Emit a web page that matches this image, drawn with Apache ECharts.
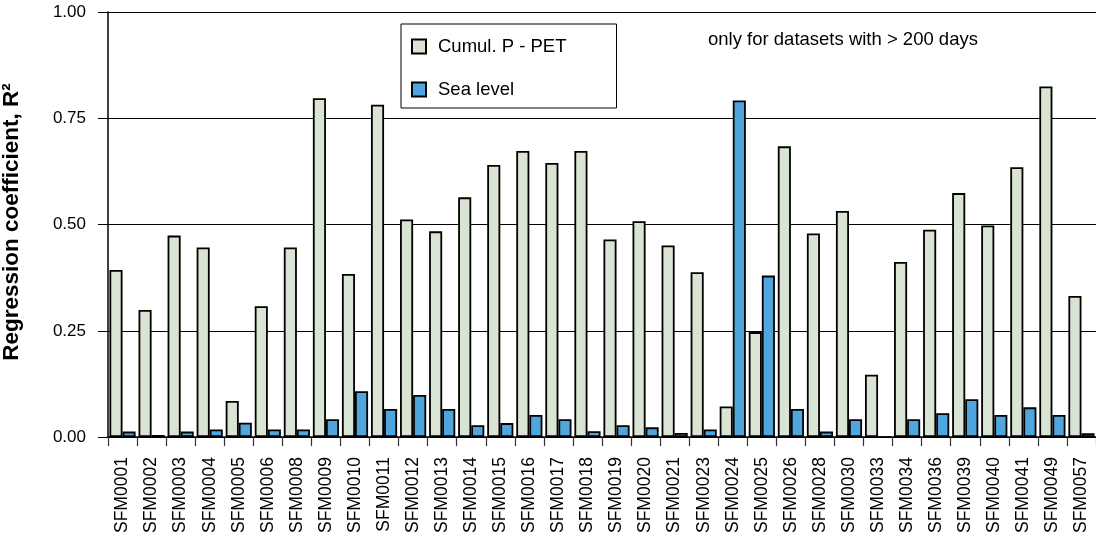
<!DOCTYPE html>
<html>
<head>
<meta charset="utf-8">
<script src="https://cdn.jsdelivr.net/npm/echarts@6/dist/echarts.min.js"></script>
<style>
  html, body { margin: 0; padding: 0; background: #fff; }
  #chart { width: 1096px; height: 536px; }
</style>
</head>
<body>
<div id="chart"></div>
<script>
// Stations (datasets longer than 200 days)
const stations = ['SFM0001','SFM0002','SFM0003','SFM0004','SFM0005','SFM0006','SFM0008','SFM0009',
  'SFM0010','SFM0011','SFM0012','SFM0013','SFM0014','SFM0015','SFM0016','SFM0017','SFM0018',
  'SFM0019','SFM0020','SFM0021','SFM0023','SFM0024','SFM0025','SFM0026','SFM0028','SFM0030',
  'SFM0033','SFM0034','SFM0036','SFM0039','SFM0040','SFM0041','SFM0049','SFM0057'];

// R² against cumulative precipitation minus potential evapotranspiration
const r2CumulPPET = [0.393,0.299,0.474,0.446,0.085,0.308,0.446,0.797,0.384,0.782,0.512,0.484,
  0.564,0.640,0.673,0.645,0.673,0.465,0.508,0.451,0.388,0.072,0.247,0.684,0.479,0.532,
  0.147,0.412,0.488,0.574,0.498,0.635,0.825,0.332];

// R² against sea level
const r2SeaLevel = [0.013,0.005,0.013,0.018,0.034,0.018,0.018,0.042,0.108,0.066,0.099,0.066,
  0.028,0.033,0.052,0.042,0.014,0.028,0.023,0.010,0.018,0.792,0.380,0.066,0.013,0.042,
  0,0.042,0.056,0.089,0.052,0.070,0.052,0.009];

const yTicks = [0, 0.25, 0.5, 0.75, 1];

const FONT = 'Arial, "Liberation Sans", sans-serif';

const chart = echarts.init(document.getElementById('chart'), null, { renderer: 'canvas' });

chart.setOption({
  animation: false,
  backgroundColor: '#fff',
  textStyle: { fontFamily: FONT, color: '#000' },
  grid: { left: 108, right: 0, top: 12, bottom: 98, containLabel: false },
  legend: {
    orient: 'vertical',
    left: 401,
    top: 24,
    padding: [13, 50, 9, 10],
    itemGap: 24,
    itemWidth: 14,
    itemHeight: 14,
    borderColor: '#000',
    borderWidth: 1,
    backgroundColor: '#fff',
    icon: 'rect',
    selectedMode: false,
    textStyle: { fontFamily: FONT, fontSize: 18.5, color: '#000', padding: [0, 0, 0, 7] },
    data: ['Cumul. P - PET', 'Sea level']
  },
  xAxis: {
    type: 'category',
    data: stations,
    axisLine: { lineStyle: { color: '#000', width: 1.5 } },
    axisTick: { show: true, alignWithLabel: false, length: 9, lineStyle: { color: '#333', width: 1.2 } },
    axisLabel: { rotate: 90, interval: 0, margin: 20, fontSize: 17.5, fontFamily: FONT, color: '#000' }
  },
  yAxis: {
    type: 'value',
    min: yTicks[0],
    max: yTicks[yTicks.length - 1],
    interval: 0.25,
    axisLine: { show: true, lineStyle: { color: '#000', width: 1.5 } },
    axisTick: { show: true, length: 10, lineStyle: { color: '#000', width: 1 } },
    axisLabel: { margin: 22, fontSize: 17, fontFamily: FONT, color: '#000',
      formatter: v => v.toFixed(2) },
    splitLine: { show: true, lineStyle: { color: '#000', width: 1 } }
  },
  series: [
    {
      name: 'Cumul. P - PET',
      type: 'bar',
      data: r2CumulPPET,
      barGap: '0%',
      barCategoryGap: '10%',
      itemStyle: { color: '#d9e4d5', borderColor: '#000', borderWidth: 1.8 }
    },
    {
      name: 'Sea level',
      type: 'bar',
      data: r2SeaLevel,
      itemStyle: { color: '#4fa6dd', borderColor: '#000', borderWidth: 1.8 }
    }
  ],
  graphic: [
    {
      type: 'text',
      x: 708,
      y: 40,
      style: { text: 'only for datasets with > 200 days', font: '18.5px ' + FONT, fill: '#000',
        verticalAlign: 'middle' }
    },
    {
      type: 'text',
      x: 12,
      y: 222,
      rotation: Math.PI / 2,
      style: {
        text: 'Regression coefficient, R²',
        font: 'bold 22.5px ' + FONT,
        fill: '#000',
        align: 'center',
        verticalAlign: 'middle'
      }
    }
  ]
});
</script>
</body>
</html>
